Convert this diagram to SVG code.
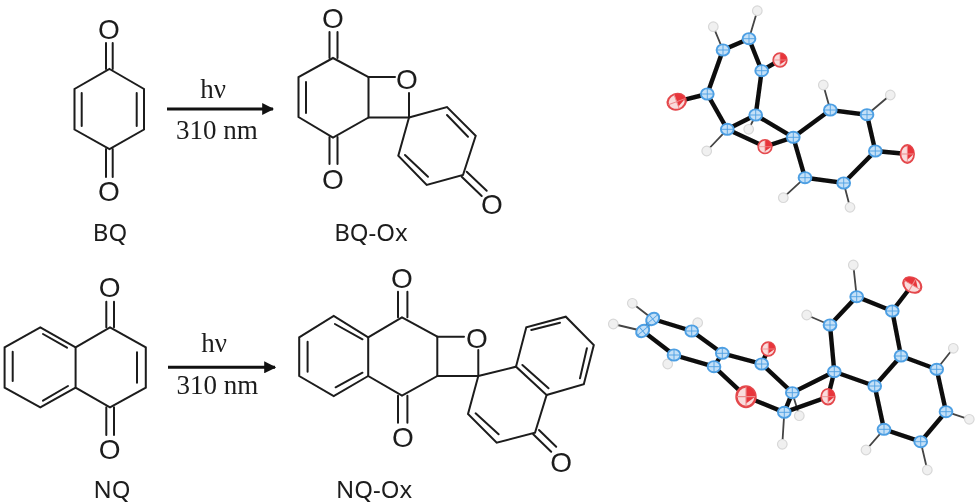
<svg xmlns="http://www.w3.org/2000/svg" width="978" height="504" viewBox="0 0 978 504">
<style>
.bg{fill:#fff}
.m path{fill:none;stroke:#1c1c1c;stroke-width:2;stroke-linejoin:miter;stroke-linecap:round}
.o{font-family:"Liberation Sans",Arial,sans-serif;font-size:28px;fill:#1c1c1c;text-anchor:middle}
.lab{font-family:"Noto Sans","Open Sans",sans-serif;font-size:24px;fill:#1c1c1c;text-anchor:middle}
.cond{font-family:"Liberation Serif","Times New Roman",serif;font-size:27px;fill:#1c1c1c;text-anchor:middle}
.arr{stroke:#111;stroke-width:3;fill:none}
.x .hv{fill:none;stroke:#0c0c0c;stroke-width:4.4;stroke-linecap:round}
.x .th{fill:none;stroke:#444;stroke-width:1.8}
.h{fill:#f0f0f0;stroke:#d8d8d8;stroke-width:1.2}
</style>
<defs>
<marker id="ah" viewBox="0 0 10 10" refX="9" refY="5" markerWidth="4" markerHeight="4" orient="auto"><path d="M0 0L10 5L0 10z" fill="#111"/></marker>
<g id="bl"><ellipse rx="6.4" ry="5.6" fill="#c4e0f7" stroke="#4d9fe3" stroke-width="1.9"/><path d="M-6 0H6M0-5.2V5.2" stroke="#4d9fe3" stroke-width=".9" fill="none"/></g>
<g id="rd"><ellipse rx="6.8" ry="6.8" fill="#f9dcdc" stroke="#e4474b" stroke-width="1.7"/><path d="M0-6.6A6.6 6.6 0 0 1 6.6 0L0 4.5Z" fill="#e8343a"/><path d="M-6.6 0H6.6M0-6.6V6.6" stroke="#ee8a8a" stroke-width=".8" fill="none"/></g>
<filter id="soft" x="-5%" y="-5%" width="110%" height="110%"><feGaussianBlur stdDeviation="0.45"/></filter>
</defs>
<rect class="bg" width="978" height="504"/>

<g id="BQ" class="m" filter="url(#soft)">
<path d="M109.5 69L144 89V129.5L109.5 149L74.5 129.5V89Z"/>
<path d="M81.7 93V126M136.7 93V126M106 69V43M112.7 69V43M106 149V177M112.7 149V177"/>
<text class="o" x="109" y="39">O</text>
<text class="o" x="109" y="201">O</text>
<text class="lab" x="110" y="241">BQ</text>
</g>

<g id="BQ-Ox" class="m" filter="url(#soft)">
<path d="M333 58L298.5 77V117L333 137.5L368.5 117.5V77Z"/>
<path d="M306 82V113M329.5 58V32M337.5 58V32M329.5 137V164M337.5 137V164"/>
<path d="M368.5 77H395M368.5 117.5H409M409 93V117.5"/>
<path d="M409 117.5L447 107L475.7 135.7L463 175L426.7 185L398.3 155.7Z"/>
<path d="M447 115L468 136.7M405 155L428 176.7M466.7 171.7L486.7 190.7M461.7 176.7L481.7 196"/>
<text class="o" x="333" y="28">O</text>
<text class="o" x="407" y="89">O</text>
<text class="o" x="333" y="189">O</text>
<text class="o" x="492" y="214">O</text>
<text class="lab" x="371" y="241">BQ-Ox</text>
</g>

<g id="NQ" class="m" filter="url(#soft)">
<path d="M110 327.3L145.8 347.3V387.7L110 407.3L75.6 387.7V347.3Z"/>
<path d="M75.6 347.3L40.3 327.3L4.6 347.3V387.7L40.3 407.3L75.6 387.7"/>
<path d="M137 352.3V382.7M12.7 351.7V381M43 334L67 347.7M43 400.7L68 386"/>
<path d="M106.3 327.3V301.7M114 327.3V301.7M106.3 407.3V435M114 407.3V435"/>
<text class="o" x="109.7" y="297.3">O</text>
<text class="o" x="109.7" y="459.3">O</text>
<text class="lab" x="112" y="498">NQ</text>
</g>

<g id="NQ-Ox" class="m" filter="url(#soft)">
<path d="M402 317.3L368.2 337.3V376L402 395.7L437.3 376V336.7Z"/>
<path d="M368.2 337.3L333.7 316L299.2 337.3V376L333.7 396L368.2 376"/>
<path d="M307.6 341.7V371.7M334.9 324L362.5 339.3M335.6 387.3L362.5 372.7"/>
<path d="M398 317.3V291.7M407.4 317.3V291.7M398 395.7V422.7M407.4 395.7V422.7"/>
<path d="M437.3 336.7H464M437.3 376H478.3M478.3 350V376"/>
<path d="M478.3 376L516 366.7L546.6 395L535 432.7L496.7 442.7L468 414Z"/>
<path d="M516 366.7L526.3 327.3L565.8 316.7L593.8 345L583.8 384.3L546.6 395"/>
<path d="M531.3 330L560 322.7M586.9 348.3L580 378.3M522.4 365L548.5 388.3M475.6 413.3L498.6 434.3"/>
<path d="M539 430L556.2 446.7M533.2 434.3L551.2 451.7"/>
<text class="o" x="402" y="288.3">O</text>
<text class="o" x="476.8" y="347.7">O</text>
<text class="o" x="402.8" y="446.7">O</text>
<text class="o" x="561.2" y="471.7">O</text>
<text class="lab" x="374" y="498">NQ-Ox</text>
</g>

<g id="connectors">
<path class="arr" d="M167 109H273" marker-end="url(#ah)"/>
<path class="arr" d="M168 367.3H275" marker-end="url(#ah)"/>
</g>
<g id="conditions" filter="url(#soft)">
<text class="cond" x="213" y="98">hν</text>
<text class="cond" x="217" y="139">310 nm</text>
<text class="cond" x="214" y="352">hν</text>
<text class="cond" x="217.5" y="394">310 nm</text>
</g>

<g id="crystal-BQ-Ox" class="x" filter="url(#soft)">
<path class="th" d="M749 38.7L757.3 10.7M723 50L713.3 26.7M755.7 115L748.7 129.3M727.3 129.3L706.7 151M830.3 110L823.3 85M867 114.7L890.3 95M805 177.7L783.3 197.7M843.7 183L850 207.3"/>
<g class="h"><circle cx="757.3" cy="10.7" r="4.8"/><circle cx="713.3" cy="26.7" r="4.8"/><circle cx="748.7" cy="129.3" r="4.8"/><circle cx="706.7" cy="151" r="4.8"/><circle cx="823.3" cy="85" r="4.8"/><circle cx="890.3" cy="95" r="4.8"/><circle cx="783.3" cy="197.7" r="4.8"/><circle cx="850" cy="207.3" r="4.8"/></g>
<path class="hv" d="M749 38.7L723 50L707.3 94L727.3 129.3L755.7 115L761.7 70.7L749 38.7M755.7 115L793.3 137.3M727.3 129.3L765 146.7L793.3 137.3L830.3 110L867 114.7L875.3 151L843.7 183L805 177.7L793.3 137.3M761.7 70.7L780 60M707.3 94L676.7 101.7M875.3 151L907.3 154"/>
<use href="#rd" transform="translate(780 60)"/>
<use href="#rd" transform="translate(676.7 101.7) rotate(-20) scale(1.35 1.15)"/>
<use href="#rd" transform="translate(765 146.7)"/>
<use href="#rd" transform="translate(907.3 154) scale(1 1.3)"/>
<use href="#bl" x="749" y="38.7"/><use href="#bl" x="723" y="50"/><use href="#bl" x="761.7" y="70.7"/><use href="#bl" x="707.3" y="94"/><use href="#bl" x="755.7" y="115"/><use href="#bl" x="727.3" y="129.3"/><use href="#bl" x="793.3" y="137.3"/><use href="#bl" x="830.3" y="110"/><use href="#bl" x="867" y="114.7"/><use href="#bl" x="875.3" y="151"/><use href="#bl" x="843.7" y="183"/><use href="#bl" x="805" y="177.7"/>
</g>

<g id="crystal-NQ-Ox" class="x" filter="url(#soft)">
<path class="th" d="M652.7 319L632.3 303.3M642.7 331L613.3 324M691.7 331L697.7 322.7M674 355L667.7 364M830 325L806.7 315M856.7 296.7L853.3 265M936.7 369.3L953.3 348.3M946 411.7L969.3 419.3M920.7 441.7L927.3 470M884 429.3L866 450M784.3 412.3L782.3 444.3M792.3 392.7L799.3 415.7"/>
<g class="h"><circle cx="632.3" cy="303.3" r="4.8"/><circle cx="613.3" cy="324" r="4.8"/><circle cx="697.7" cy="322.7" r="4.8"/><circle cx="667.7" cy="364" r="4.8"/><circle cx="806.7" cy="315" r="4.8"/><circle cx="853.3" cy="265" r="4.8"/><circle cx="953.3" cy="348.3" r="4.8"/><circle cx="969.3" cy="419.3" r="4.8"/><circle cx="927.3" cy="470" r="4.8"/><circle cx="866" cy="450" r="4.8"/><circle cx="782.3" cy="444.3" r="4.8"/><circle cx="799.3" cy="415.7" r="4.8"/></g>
<path class="hv" d="M652.7 319L642.7 331L674 355L714 366.7L722.3 353.3L691.7 331L652.7 319M722.3 353.3L761.7 364L792.3 392.7L834.3 371.7L828 396.7L784.3 412.3L746 396.7L714 366.7M761.7 364L768.3 349M792.3 392.7L784.3 412.3M834.3 371.7L830 325L856.7 296.7L892.3 311L901 356L874.7 386L834.3 371.7M892.3 311L912.3 285M901 356L936.7 369.3L946 411.7L920.7 441.7L884 429.3L874.7 386"/>
<use href="#rd" transform="translate(912.3 285) rotate(-60) scale(1.05 1.4)"/>
<use href="#rd" transform="translate(768.3 349)"/>
<use href="#rd" transform="translate(746 396.7) scale(1.4 1.5)"/>
<use href="#rd" transform="translate(828 396.7) scale(1 1.15)"/>
<use href="#bl" transform="translate(652.7 319) rotate(-40) scale(1.1 1)"/><use href="#bl" transform="translate(642.7 331) rotate(-40) scale(1.1 1)"/><use href="#bl" x="691.7" y="331"/><use href="#bl" x="674" y="355"/><use href="#bl" x="722.3" y="353.3"/><use href="#bl" x="714" y="366.7"/><use href="#bl" x="761.7" y="364"/><use href="#bl" x="792.3" y="392.7"/><use href="#bl" x="784.3" y="412.3"/><use href="#bl" x="834.3" y="371.7"/><use href="#bl" x="830" y="325"/><use href="#bl" x="856.7" y="296.7"/><use href="#bl" x="892.3" y="311"/><use href="#bl" x="901" y="356"/><use href="#bl" x="874.7" y="386"/><use href="#bl" x="936.7" y="369.3"/><use href="#bl" x="946" y="411.7"/><use href="#bl" x="920.7" y="441.7"/><use href="#bl" x="884" y="429.3"/>
</g>
</svg>
